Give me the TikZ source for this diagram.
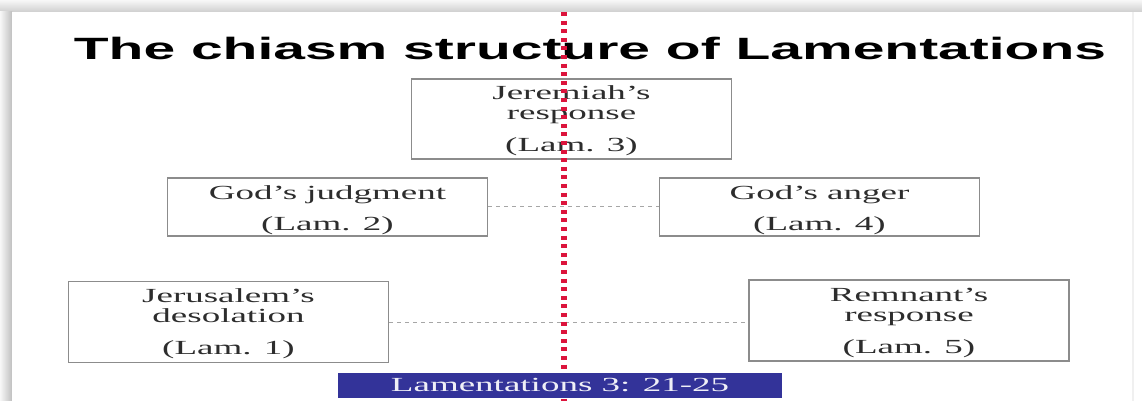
\documentclass[tikz,border=0pt]{standalone}
\usepackage{fontspec}
\setmainfont{Liberation Serif}
\newfontfamily\titlefont{Liberation Sans}[FakeStretch=1.85]
\newfontfamily\boxfont{Liberation Serif}[FakeStretch=1.85]
\usetikzlibrary{positioning}
\definecolor{slideblue}{RGB}{51,51,153}
\definecolor{axisred}{RGB}{220,20,60}
\definecolor{boxgray}{RGB}{140,140,140}
\definecolor{inkgray}{RGB}{45,45,45}

\begin{document}
\begin{tikzpicture}[x=0.5pt, y=-0.5pt,
  chbox/.style={draw=boxgray, line width=0.7pt, fill=white, align=center, minimum width=160pt, inner sep=0pt, text=inkgray, font=\boxfont\fontsize{10}{10}\selectfont},
  keybox/.style={fill=slideblue, minimum width=222pt, minimum height=12.5pt, inner sep=0pt, text=white!92!slideblue, font=\boxfont\fontsize{10}{10}\selectfont},
  pairline/.style={gray!70, line width=0.5pt, dash pattern=on 2pt off 2pt},
  axisline/.style={axisred, line width=3pt, dash pattern=on 2pt off 2.3pt}
]
\useasboundingbox (0,0) rectangle (1142,401);
\clip (0,0) rectangle (1142,401);
% slide and its shadow
\fill[gray!12] (0,0) rectangle (1142,401);
\shade[top color=gray!6, bottom color=gray!38] (0,0) rectangle (1142,12);
\shade[left color=gray!6, right color=gray!50] (0,12) rectangle (12,401);
\fill[white] (12,12) rectangle (1142,401);
\draw[gray!12, line width=1pt] (1133,12) -- (1133,401);

\node[anchor=base, font=\titlefont\bfseries\fontsize{15.4}{18}\selectfont] (title) at (590,60) {The chiasm structure of Lamentations};

\node[chbox, minimum height=40pt] (jer) at (571.5,119) {\rule{0pt}{9pt}Jeremiah’s\\response\\[6pt](Lam. 3)};
\node[chbox, minimum height=29pt] (judg) at (327.5,207) {\rule{0pt}{10pt}God’s judgment\\[5.5pt](Lam. 2)};
\node[chbox, minimum height=29pt] (anger) at (819.5,207) {\rule{0pt}{10pt}God’s anger\\[5.5pt](Lam. 4)};
\node[chbox, minimum height=40.5pt] (jerus) at (228.5,322) {\rule{0pt}{9pt}Jerusalem’s\\desolation\\[6pt](Lam. 1)};
\node[chbox, minimum height=40.5pt] (remn) at (909,320.5) {\rule{0pt}{9pt}Remnant’s\\response\\[6pt](Lam. 5)};

\draw[pairline] (judg.east) -- (anger.west);
\draw[pairline] (jerus.east) -- (jerus.east -| remn.west);

\coordinate (axtop) at (564,12);
\coordinate (axbot) at (564,401);
\draw[axisline] (axtop) -- (axbot);

\node[keybox] (key) at (560,385.5) {Lamentations 3: 21-25};
\end{tikzpicture}
\end{document}
